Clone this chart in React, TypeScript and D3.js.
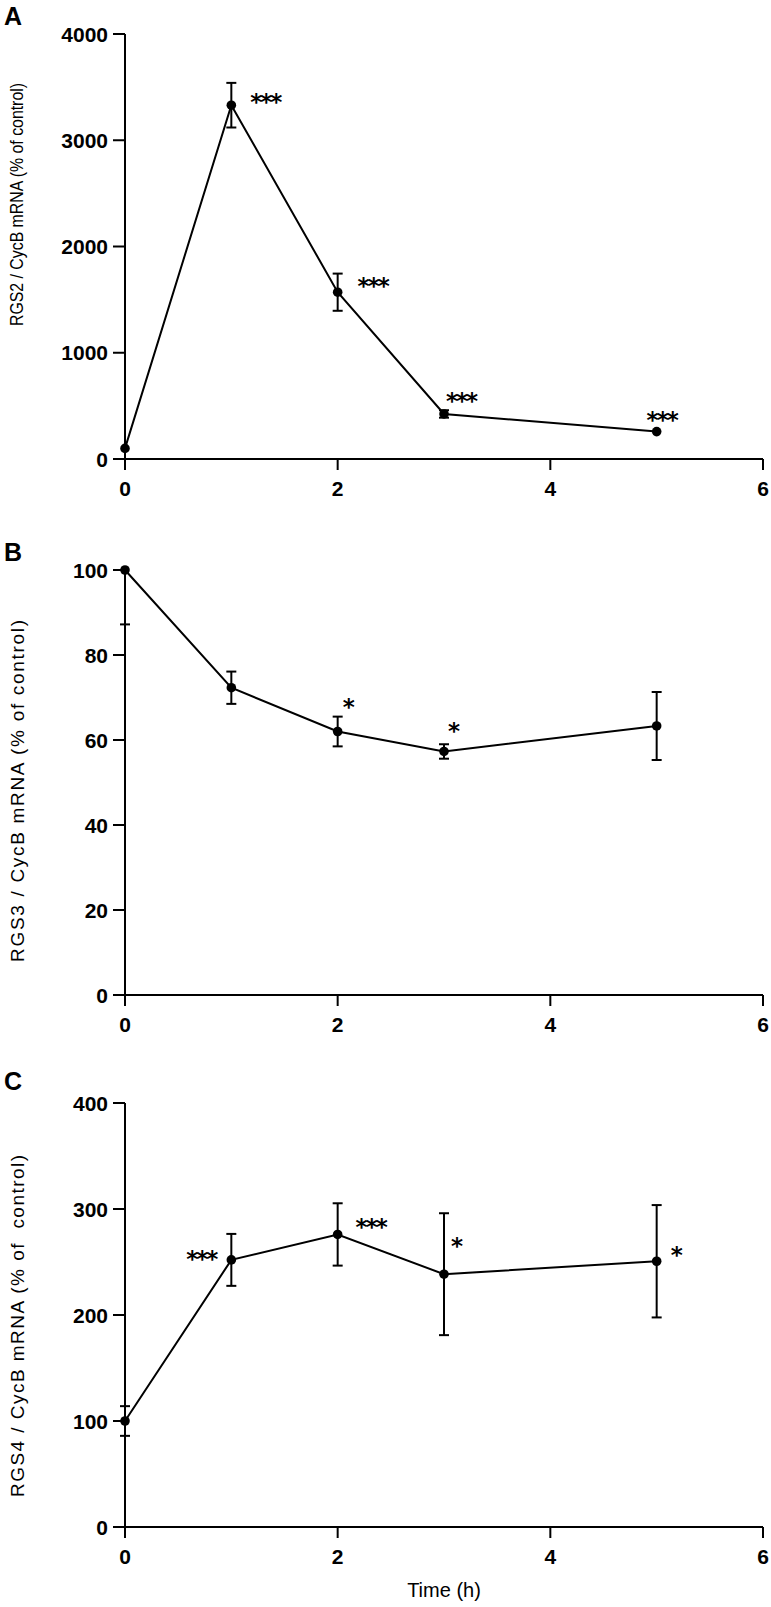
import React from "react";
import * as d3 from "d3";

const times = [0, 1, 2, 3, 5];
const xTicks = [0, 2, 4, 6];

const rgs2Values = [100, 3330, 1570, 424, 258];
const rgs2Errors = [0, 210, 175, 35, 0];
const rgs2Sig = ["", "***", "***", "***", "***"];
const rgs2Ticks = [0, 1000, 2000, 3000, 4000];

const rgs3Values = [100, 72.3, 62, 57.3, 63.3];
const rgs3Errors = [12.8, 3.8, 3.5, 1.7, 8];
const rgs3Sig = ["", "", "*", "*", ""];
const rgs3Ticks = [0, 20, 40, 60, 80, 100];

const rgs4Values = [100, 252, 276, 238.5, 250.7];
const rgs4Errors = [14, 24.5, 29.4, 57.5, 53];
const rgs4Sig = ["", "***", "***", "*", "*"];
const rgs4Ticks = [0, 100, 200, 300, 400];

const W = 771;
const H = 1607;

type Panel = {
  letter: string;
  label: string;
  values: number[];
  errors: number[];
  sig: string[];
  ticks: number[];
  yMax: number;
  top: number;
  bottom: number;
  letterY: number;
  labelTop: number;
  labelBottom: number;
  labelSize: number;
  labelAdjust: string;
  sigOffsets: [number, number][];
};

const panels: Panel[] = [
  {
    letter: "A",
    label: "RGS2 / CycB mRNA (% of control)",
    values: rgs2Values,
    errors: rgs2Errors,
    sig: rgs2Sig,
    ticks: rgs2Ticks,
    yMax: 4000,
    top: 34,
    bottom: 459,
    letterY: 25,
    labelTop: 83,
    labelBottom: 326,
    labelSize: 17.5,
    labelAdjust: "spacingAndGlyphs",
    sigOffsets: [[0, 0], [34, -8], [35, -11], [17, -18], [5, -17]],
  },
  {
    letter: "B",
    label: "RGS3 / CycB mRNA (% of control)",
    values: rgs3Values,
    errors: rgs3Errors,
    sig: rgs3Sig,
    ticks: rgs3Ticks,
    yMax: 100,
    top: 570,
    bottom: 995,
    letterY: 561,
    labelTop: 620,
    labelBottom: 962,
    labelSize: 19,
    labelAdjust: "spacing",
    sigOffsets: [[0, 0], [0, 0], [10, -30], [9, -25], [0, 0]],
  },
  {
    letter: "C",
    label: "RGS4 / CycB mRNA (% of  control)",
    values: rgs4Values,
    errors: rgs4Errors,
    sig: rgs4Sig,
    ticks: rgs4Ticks,
    yMax: 400,
    top: 1103,
    bottom: 1527,
    letterY: 1090,
    labelTop: 1155,
    labelBottom: 1497,
    labelSize: 19,
    labelAdjust: "spacing",
    sigOffsets: [[0, 0], [-30, -6], [33, -12], [12, -33], [19, -11]],
  },
];

const xScale = d3.scaleLinear().domain([0, 6]).range([125, 763]);
const FONT = "'Liberation Sans', Arial, Helvetica, sans-serif";

function PanelView({ p }: { p: Panel }) {
  const y = d3.scaleLinear().domain([0, p.yMax]).range([p.bottom, p.top]);
  const line = d3
    .line<number>()
    .x((_, i) => xScale(times[i]))
    .y((v) => y(v));
  const x0 = xScale(0);
  const x6 = xScale(6);
  const labelCx = 17;
  const labelCy = (p.labelTop + p.labelBottom) / 2;
  const cap = 5;
  return (
    <g>
      <text x={4} y={p.letterY} fontFamily={FONT} fontWeight="bold" fontSize={25}>
        {p.letter}
      </text>
      <text
        transform={`translate(${labelCx},${labelCy}) rotate(-90)`}
        textAnchor="middle"
        dominantBaseline="central"
        fontFamily={FONT}
        fontSize={p.labelSize}
        textLength={p.labelBottom - p.labelTop}
        lengthAdjust={p.labelAdjust}
        style={{ whiteSpace: "pre" }}
      >
        {p.label}
      </text>
      <line x1={x0} x2={x0} y1={y(p.yMax)} y2={y(0) + 11} stroke="#000" strokeWidth={2} />
      <line x1={x0 - 12} x2={x6} y1={y(0)} y2={y(0)} stroke="#000" strokeWidth={2} />
      {p.ticks.map((t) => (
        <g key={"yt" + t}>
          <line x1={x0 - 12} x2={x0} y1={y(t)} y2={y(t)} stroke="#000" strokeWidth={2} />
          <text
            x={x0 - 17}
            y={y(t)}
            textAnchor="end"
            dominantBaseline="central"
            fontFamily={FONT}
            fontWeight="bold"
            fontSize={21}
          >
            {t}
          </text>
        </g>
      ))}
      {xTicks.map((t) => (
        <g key={"xt" + t}>
          <line x1={xScale(t)} x2={xScale(t)} y1={y(0)} y2={y(0) + 11} stroke="#000" strokeWidth={2} />
          <text
            x={xScale(t)}
            y={y(0) + 37}
            textAnchor="middle"
            fontFamily={FONT}
            fontWeight="bold"
            fontSize={21}
          >
            {t}
          </text>
        </g>
      ))}
      {p.values.map((v, i) => {
        const e = p.errors[i];
        if (!e) return null;
        const cx = xScale(times[i]);
        const hi = v + e;
        const lo = v - e;
        const yHi = y(Math.min(hi, p.yMax));
        const yLo = y(lo);
        return (
          <g key={"eb" + i} stroke="#000" strokeWidth={2}>
            <line x1={cx} x2={cx} y1={yHi} y2={yLo} />
            {hi <= p.yMax && <line x1={cx - cap} x2={cx + cap} y1={yHi} y2={yHi} />}
            <line x1={cx - cap} x2={cx + cap} y1={yLo} y2={yLo} />
          </g>
        );
      })}
      <path d={line(p.values) || ""} fill="none" stroke="#000" strokeWidth={2} />
      {p.values.map((v, i) => (
        <circle key={"pt" + i} cx={xScale(times[i])} cy={y(v)} r={4.8} fill="#000" />
      ))}
      {p.sig.map((s, i) =>
        s ? (
          <text
            key={"sig" + i}
            x={xScale(times[i]) + p.sigOffsets[i][0]}
            y={y(p.values[i]) + p.sigOffsets[i][1] + 13}
            textAnchor="middle"
            fontFamily="'DejaVu Sans', sans-serif"
            fontWeight="bold"
            fontSize={23}
            letterSpacing={-2}
          >
            {s}
          </text>
        ) : null
      )}
    </g>
  );
}

export default function App() {
  return (
    <svg
      width={W}
      height={H}
      viewBox={`0 0 ${W} ${H}`}
      style={{ position: "absolute", left: 0, top: 0, background: "#fff" }}
    >
      <rect x={0} y={0} width={W} height={H} fill="#fff" />
      {panels.map((p) => (
        <PanelView key={p.letter} p={p} />
      ))}
      <text x={xScale(3)} y={1597} textAnchor="middle" fontFamily={FONT} fontSize={20}>
        Time (h)
      </text>
    </svg>
  );
}
